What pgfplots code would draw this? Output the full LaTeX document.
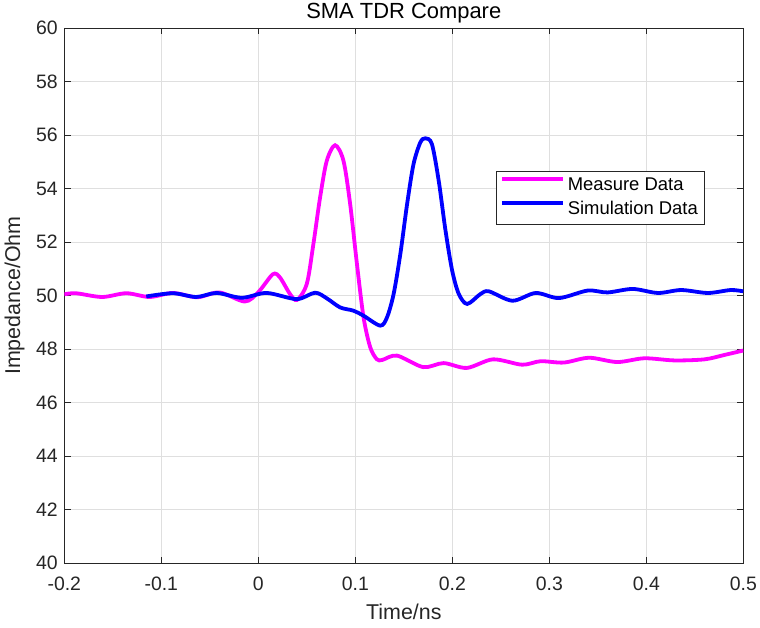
\documentclass[border=0pt]{standalone}
\usepackage{fontspec}
\setmainfont{Liberation Sans}
\usepackage{pgfplots}
\pgfplotsset{compat=1.18}
\definecolor{gridgray}{RGB}{223,223,223}
\definecolor{axgray}{RGB}{38,38,38}
\definecolor{measure}{RGB}{255,0,255}
\definecolor{simul}{RGB}{0,0,255}

\begin{document}
\begin{tikzpicture}
\begin{axis}[
    name=ax,
    scale only axis,
    width=679bp, height=535.3bp,
    xmin=-0.2, xmax=0.5, ymin=40, ymax=60,
    xtick={-0.2,-0.1,0,0.1,0.2,0.3,0.4,0.5},
    xticklabels={-0.2,-0.1,0,0.1,0.2,0.3,0.4,0.5},
    ytick={40,42,44,46,48,50,52,54,56,58,60},
    grid=major,
    major grid style={gridgray, line width=0.8bp},
    tick align=inside,
    major tick length=6.5bp,
    tick style={axgray, line width=0.8bp},
    axis line style={axgray, line width=0.8bp},
    ticklabel style={font=\fontsize{19.5}{21}\selectfont, text=axgray},
    yticklabel style={/pgf/number format/assume math mode=true, xshift=-3bp},
    xticklabel style={yshift=-10.5bp},
    title={SMA TDR Compare},
    title style={font=\fontsize{22}{24}\selectfont, at={(axis description cs:0.5,1)}, anchor=base, yshift=3.3bp},
    xlabel={Time/ns},
    xlabel style={font=\fontsize{21.5}{23}\selectfont, text=axgray, at={(axis description cs:0.5,-0.1052)}, anchor=base},
    ylabel={Impedance/Ohm},
    ylabel style={font=\fontsize{21.5}{23}\selectfont, text=axgray, at={(axis description cs:-0.0652,0.5)}, anchor=base, rotate=0},
    legend cell align=left,
    legend style={
        at={(axis description cs:0.944,0.733)}, anchor=north east,
        draw=axgray, line width=0.8bp, fill=white,
        font=\fontsize{18.5}{20}\selectfont,
        inner xsep=4bp, inner ysep=2bp,
        nodes={inner xsep=3bp, inner ysep=3.4bp, text height=13.5bp, text depth=4bp},
    },
    legend image code/.code={\draw[#1, line width=3.6bp] (0bp,6.6bp) -- (61bp,6.6bp);},
]
\addplot[measure, line width=3.8bp, smooth, tension=0.5] coordinates {
(-0.200,50.05) (-0.188,50.09) (-0.161,49.95) (-0.136,50.09) (-0.112,49.95)
(-0.088,50.10) (-0.063,49.94) (-0.040,50.12) (-0.014,49.78) (0.000,50.13)
(0.015,50.80) (0.0223,50.68) (0.0327,50.06) (0.040,49.84) (0.050,50.44)
(0.0568,51.93) (0.0637,53.67) (0.0706,55.04) (0.0792,55.62) (0.0878,55.04)
(0.0947,53.42) (0.1017,51.18) (0.1085,49.19) (0.1154,48.07) (0.1223,47.62)
(0.1280,47.60) (0.143,47.76) (0.170,47.33) (0.191,47.48) (0.215,47.30)
(0.242,47.62) (0.272,47.42) (0.291,47.55) (0.315,47.50) (0.341,47.68)
(0.370,47.52) (0.398,47.66) (0.429,47.58) (0.460,47.62) (0.480,47.78)
(0.500,47.95)
};
\addlegendentry{Measure Data}
\addplot[simul, line width=3.8bp, smooth, tension=0.5] coordinates {
(-0.1155,49.97) (-0.088,50.09) (-0.064,49.95) (-0.043,50.10) (-0.017,49.92)
(0.0086,50.10) (0.0396,49.87) (0.0585,50.11) (0.0706,49.90) (0.0844,49.56)
(0.098,49.44) (0.1085,49.25) (0.1257,48.88) (0.1327,49.19) (0.1395,50.06)
(0.1464,51.55) (0.1534,53.42) (0.160,54.91) (0.167,55.72) (0.1723,55.88)
(0.179,55.66) (0.186,54.29) (0.193,52.43) (0.1999,50.93) (0.2067,50.06)
(0.2154,49.69) (0.229,50.06) (0.2378,50.16) (0.262,49.81) (0.286,50.10)
(0.310,49.91) (0.3395,50.19) (0.360,50.12) (0.386,50.25) (0.412,50.10)
(0.436,50.21) (0.4635,50.10) (0.487,50.21) (0.500,50.16)
};
\addlegendentry{Simulation Data}
\end{axis}
\pgfresetboundingbox
\path ([shift={(-64.3bp,-64.7bp)}]ax.south west) rectangle ([shift={(16.7bp,28bp)}]ax.north east);
\end{tikzpicture}
\end{document}
